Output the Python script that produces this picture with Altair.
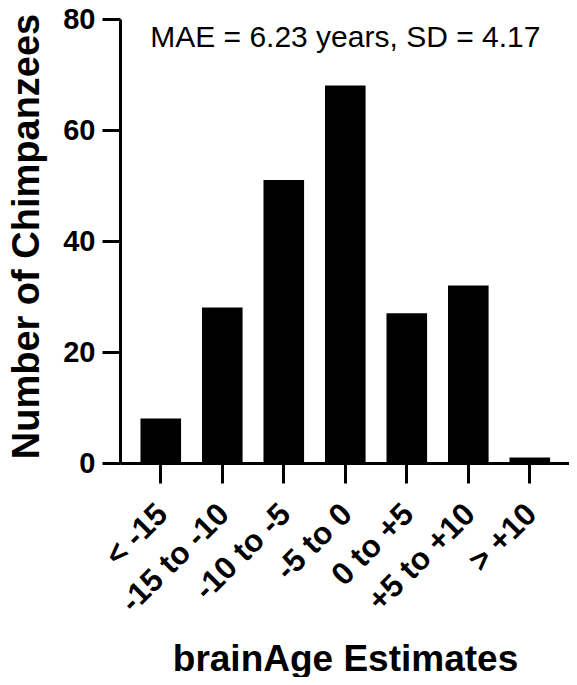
import altair as alt
import pandas as pd

categories = ["< -15", "-15 to -10", "-10 to -5", "-5 to 0", "0 to +5", "+5 to +10", "> +10"]
counts = [8, 28, 51, 68, 27, 32, 1]
y_ticks = [0, 20, 40, 60, 80]
annotation = "MAE = 6.23 years, SD = 4.17"
annot_cat = ["-5 to 0"]
annot_y = [75]

FONT = "Liberation Sans"

df = pd.DataFrame({"cat": categories, "n": counts})
ann = pd.DataFrame({"cat": annot_cat, "y": annot_y, "t": [annotation]})

x_scale = alt.Scale(domain=categories, paddingInner=0.34, paddingOuter=0.32, align=0.52)
y_scale = alt.Scale(domain=[0, 80], nice=False, zero=True)

bars = alt.Chart(df).mark_bar(color="black").encode(
    x=alt.X("cat:N", scale=x_scale, sort=categories,
            axis=alt.Axis(title="brainAge Estimates", labelAngle=-45, labelAlign="right",
                          labelBaseline="top", labelOffset=-9, labelPadding=15,
                          labelFont=FONT, labelFontSize=31.5, labelFontWeight="bold",
                          labelColor="black", labelOverlap=False, labelLimit=0,
                          tickSize=20, tickWidth=3, tickColor="black",
                          domainWidth=3, domainColor="black",
                          titleFont=FONT, titleFontSize=37, titleFontWeight="bold",
                          titleColor="black", titleX=225, titleY=207,
                          titleBaseline="alphabetic", titleAlign="center")),
    y=alt.Y("n:Q", scale=y_scale,
            axis=alt.Axis(title="Number of Chimpanzees", values=y_ticks, grid=False,
                          labelFont=FONT, labelFontSize=29, labelFontWeight="bold",
                          labelColor="black", labelPadding=7,
                          tickSize=18, tickWidth=3, tickColor="black",
                          domainWidth=3, domainColor="black",
                          titleFont=FONT, titleFontSize=38, titleFontWeight="bold",
                          titleColor="black", titleX=-93, titleY=217, titleAngle=-90,
                          titleAlign="center", titleBaseline="middle")),
)

text = alt.Chart(ann).mark_text(font=FONT, fontSize=30, color="black",
                                align="center", baseline="alphabetic").encode(
    x=alt.X("cat:N", scale=x_scale, sort=categories),
    y=alt.Y("y:Q", scale=y_scale),
    text="t:N",
)

chart = (bars + text).properties(
    width=449, height=444,
    autosize=alt.AutoSizeParams(type="none"),
    padding={"left": 112, "top": 11, "right": 0, "bottom": 214},
).configure_view(stroke=None)

chart.save("out.html", embed_options={"renderer": "svg", "actions": False})
